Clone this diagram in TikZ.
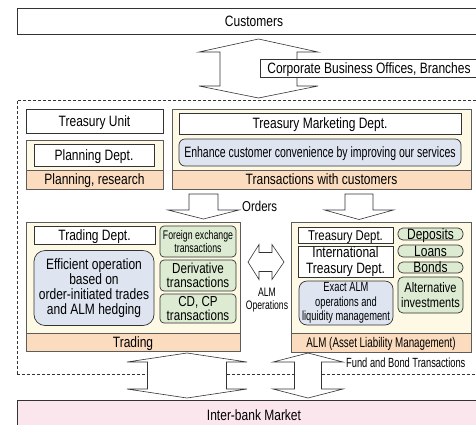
\documentclass[tikz,border=0pt]{standalone}
\usepackage{fontspec}
\setmainfont{Liberation Sans}[FakeStretch=0.8]
\newfontfamily\condf{Liberation Sans}[FakeStretch=0.7]
\definecolor{linec}{HTML}{333333}
\definecolor{creamc}{HTML}{FDF9E5}
\definecolor{bandc}{HTML}{FBDCBE}
\definecolor{bluec}{HTML}{DEE5F1}
\definecolor{greenc}{HTML}{DCEBD2}
\definecolor{pinkc}{HTML}{FCE6EE}
\newcommand\mfont{\fontsize{15}{15}\selectfont}
\tikzset{
  bx/.style={draw=linec, line width=0.7pt, fill=white, inner sep=0pt, align=center, font=\mfont},
  capm/.style={text height=10.7pt, text depth=0pt},
  outerbox/.style={draw=linec!80, line width=0.7pt, fill=creamc, inner sep=0pt},
  bandbox/.style={draw=linec!80, line width=0.7pt, fill=bandc, inner sep=0pt, align=center, font=\mfont},
  bluebox/.style={draw=linec, line width=0.7pt, fill=bluec, inner sep=0pt, align=center, rounded corners=8pt},
  greenbox/.style={draw=linec, line width=0.7pt, fill=greenc, inner sep=0pt, align=center, rounded corners=4pt, font=\mfont},
  blk/.style={draw=linec, line width=0.6pt, fill=white},
  zonebox/.style={draw=linec, line width=0.6pt, dash pattern=on 3pt off 2pt, inner sep=0pt},
  lbl/.style={inner sep=0pt, font=\mfont}
}
% vertical double block arrow: cx, top apex y, top base y, bottom base y, bottom apex y, head half, shaft half
\newcommand\vdblock[7]{%
  \draw[blk] (#1,#2) -- (#1+#6,#3) -- (#1+#7,#3) -- (#1+#7,#4) -- (#1+#6,#4) -- (#1,#5)
    -- (#1-#6,#4) -- (#1-#7,#4) -- (#1-#7,#3) -- (#1-#6,#3) -- cycle;}
% down block arrow: cx, top y, base y, apex y, head half, shaft half
\newcommand\dnblock[6]{%
  \draw[blk] (#1-#6,#2) -- (#1+#6,#2) -- (#1+#6,#3) -- (#1+#5,#3) -- (#1,#4)
    -- (#1-#5,#3) -- (#1-#6,#3) -- cycle;}
\begin{document}
\begin{tikzpicture}[x=1pt,y=-1pt]
\useasboundingbox (0,0) rectangle (476,424);
\clip (0,0) rectangle (476,424);

% customers
\node[bx, capm, minimum width=474, minimum height=26] (cust) at (254,21) {Customers};
% top double arrow
\vdblock{258.5}{39}{52}{86}{98}{59.5}{38.5}
\node[bx, capm, minimum width=218, minimum height=18] (corp) at (369,68) {Corporate Business Offices, Branches};

% dashed zone
\node[zonebox, minimum width=480, minimum height=274, anchor=north west] (zone) at (17,99.5) {};

% treasury unit / planning
\node[bx, capm, minimum width=137, minimum height=24] (tu) at (94.5,121) {Treasury Unit};
\node[outerbox, minimum width=137, minimum height=49] (planbox) at (94.5,164.5) {};
\node[bandbox, capm, minimum width=137, minimum height=19] (planband) at (94.5,179.5) {Planning, research};
\node[bx, capm, minimum width=120, minimum height=22] (plandept) at (94,155) {Planning Dept.};

% treasury marketing
\node[outerbox, minimum width=299, minimum height=80] (tmbox) at (321.5,149) {};
\node[bandbox, capm, minimum width=299, minimum height=19] (tmband) at (321.5,179.5) {Transactions with customers};
\node[bx, capm, minimum width=282, minimum height=21] (tmdept) at (320,123.5) {Treasury Marketing Dept.};
\node[bluebox, rounded corners=6pt, minimum width=282, minimum height=27, font=\condf\fontsize{15}{15}\selectfont, text height=10.7pt, text depth=0pt] (enh) at (320,152.5) {Enhance customer convenience by improving our services};

% orders arrows
\dnblock{203.5}{194}{210}{219}{35.5}{14.5}
\dnblock{359}{194}{210}{219.5}{34.5}{14}
\node[lbl, anchor=west, font=\fontsize{14.3}{14.3}\selectfont, text height=10.2pt, text depth=0pt] (orders) at (242,206) {Orders};

% trading
\node[outerbox, minimum width=214, minimum height=129] (trbox) at (133,286.5) {};
\node[bandbox, capm, minimum width=214, minimum height=18] (trband) at (133,342) {Trading};
\node[bx, capm, minimum width=121, minimum height=18] (trdept) at (94.5,235) {Trading Dept.};
\node[bluebox, rounded corners=11pt, minimum width=120, minimum height=75, font=\fontsize{15}{15}\selectfont] (eff) at (94,288) {Efficient operation\\based on\\order-initiated trades\\and ALM hedging};
\node[greenbox, minimum width=76, minimum height=31, font=\condf\fontsize{12.5}{12.5}\selectfont] (fx) at (198,241.5) {Foreign exchange\\transactions};
\node[greenbox, minimum width=76, minimum height=31, font=\fontsize{14.5}{14.5}\selectfont] (deriv) at (198,275.5) {Derivative\\transactions};
\node[greenbox, minimum width=76, minimum height=29, font=\fontsize{14.5}{14.5}\selectfont] (cdcp) at (198,308.5) {CD, CP\\transactions};

% ALM operations arrow
\draw[blk] (248,262) -- (259,244.5) -- (259,252.5) -- (272,252.5) -- (272,244.5) -- (284,262)
  -- (272,279.5) -- (272,271.5) -- (259,271.5) -- (259,279.5) -- cycle;
\node[lbl, align=center, font=\condf\fontsize{12.3}{13}\selectfont] (almops) at (267,300.5) {ALM\\Operations};

% ALM
\node[outerbox, minimum width=180, minimum height=130] (almbox) at (381,287) {};
\node[bandbox, minimum width=180, minimum height=19, font=\condf\fontsize{14}{14}\selectfont, text height=10pt, text depth=0pt] (almband) at (381,342.5) {ALM (Asset Liability Management)};
\node[bx, minimum width=95, minimum height=16, font=\fontsize{14.2}{14.2}\selectfont, text height=10.2pt, text depth=0pt] (trsdept) at (345.5,235) {Treasury Dept.};
\node[bx, minimum width=95, minimum height=31, font=\fontsize{15}{16}\selectfont] (intl) at (345.5,261.5) {International\\Treasury Dept.};
\node[bluebox, minimum width=94, minimum height=44, font=\condf\fontsize{13.3}{14.5}\selectfont] (exact) at (346,303) {Exact ALM\\operations and\\liquidity management};
\node[greenbox, capm, rounded corners=5pt, minimum width=65, minimum height=12] (dep) at (430.5,234) {Deposits};
\node[greenbox, capm, rounded corners=5pt, minimum width=65, minimum height=12] (loans) at (430.5,251) {Loans};
\node[greenbox, capm, rounded corners=5pt, minimum width=65, minimum height=11] (bonds) at (430.5,267.5) {Bonds};
\node[greenbox, rounded corners=5pt, minimum width=65, minimum height=36, font=\fontsize{13.8}{15}\selectfont] (alt) at (430.5,295) {Alternative\\investments};

% bottom arrows
\vdblock{187}{353}{362}{389}{398}{60}{39.5}
\vdblock{308}{353}{362}{389}{398}{35}{13.5}
\node[lbl, anchor=west, font=\condf\fontsize{13.3}{13.3}\selectfont, text height=9.5pt, text depth=0pt] (fund) at (346,363) {Fund and Bond Transactions};

% inter-bank
\node[bx, capm, fill=pinkc, minimum width=474, minimum height=30] (ib) at (254,415) {Inter-bank Market};
\end{tikzpicture}
\end{document}
